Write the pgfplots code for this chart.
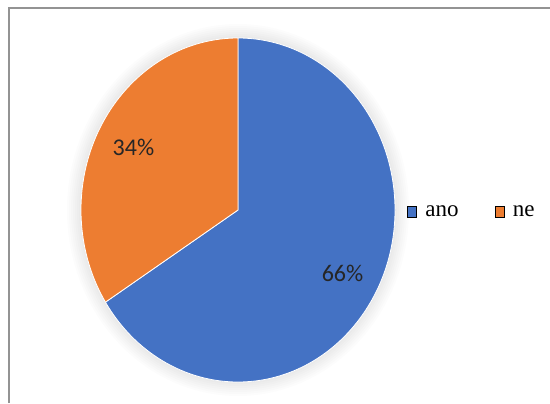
\documentclass[border=0pt]{standalone}
\usepackage{pgfplots}
\pgfplotsset{compat=1.18}
\usepackage{pgfplotstable}
\usepackage{fontspec}
\setmainfont{Liberation Serif}
\newfontfamily\calibri{Carlito}
\definecolor{pieblue}{HTML}{4472C4}
\definecolor{pieorange}{HTML}{ED7D31}
\pgfplotstableread{
label value
ano 66
ne 34
}\piedata
\begin{document}
\begin{tikzpicture}
\pgfplotstablegetelem{0}{value}\of\piedata \let\va\pgfplotsretval
\pgfplotstablegetelem{1}{value}\of\piedata \let\vb\pgfplotsretval
\pgfmathsetmacro\tot{\va+\vb}
\pgfmathsetmacro\aend{90-3.6*(100*\va/\tot)}
\pgfmathsetmacro\bend{90+3.6*(100*\vb/\tot)}
\pgfmathsetmacro\amid{(90+\aend)/2}
\pgfmathsetmacro\bmid{(90+\bend)/2}
\pgfmathsetmacro\cx{238}
\pgfmathsetmacro\cy{193}
\pgfmathsetmacro\rx{157}
\pgfmathsetmacro\ry{172}
\pgfmathsetmacro\alx{\cx+0.76*\rx*cos(\amid)}
\pgfmathsetmacro\aly{\cy+0.76*\ry*sin(\amid)}
\pgfmathsetmacro\blx{\cx+0.76*\rx*cos(\bmid)}
\pgfmathsetmacro\bly{\cy+0.76*\ry*sin(\bmid)}
\begin{axis}[name=ax, scale only axis, width=550bp, height=403bp,
  xmin=0, xmax=550, ymin=0, ymax=403, hide axis, clip=false,
  legend style={at={(axis cs:407,191)}, anchor=west, draw=none, fill=none,
    legend columns=2, font=\rmfamily\fontsize{23bp}{25bp}\selectfont,
    inner sep=0pt, outer sep=0pt,
    /tikz/every odd column/.style={column sep=7bp},
    /tikz/every even column/.style={column sep=34bp}},
  legend cell align=left,
  legend image code/.code={\fill[#1] (0bp,-5bp) rectangle (9bp,5.5bp);}]
% outer frame (top and left edges)
\draw[line width=1.3bp, gray!85] (axis cs:9,0) -- (axis cs:9,395) -- (axis cs:550,395);
% soft shadow
\pgfplotsinvokeforeach{2,4,6,8,10,12,14}{
  \fill[black, opacity=0.012] (axis cs:\cx,\cy) ellipse [x radius=\rx bp+#1bp, y radius=\ry bp+#1bp];
}
% slices
\fill[pieblue, draw=white, line width=0.8bp] (axis cs:\cx,\cy) -- ++(90:\rx bp and \ry bp)
  arc[start angle=90, end angle=\aend, x radius=\rx bp, y radius=\ry bp] -- cycle;
\fill[pieorange, draw=white, line width=0.8bp] (axis cs:\cx,\cy) -- ++(90:\rx bp and \ry bp)
  arc[start angle=90, end angle=\bend, x radius=\rx bp, y radius=\ry bp] -- cycle;
\node[font=\calibri\fontsize{24bp}{26bp}\selectfont, text=black!85] at (axis cs:\alx,\aly) {\va\%};
\node[font=\calibri\fontsize{24bp}{26bp}\selectfont, text=black!85] at (axis cs:\blx,\bly) {\vb\%};
\addlegendimage{fill=pieblue}
\addlegendentry{ano}
\addlegendimage{fill=pieorange}
\addlegendentry{ne}
\end{axis}
\pgfresetboundingbox
\useasboundingbox (ax.south west) rectangle (ax.north east);
\end{tikzpicture}
\end{document}
